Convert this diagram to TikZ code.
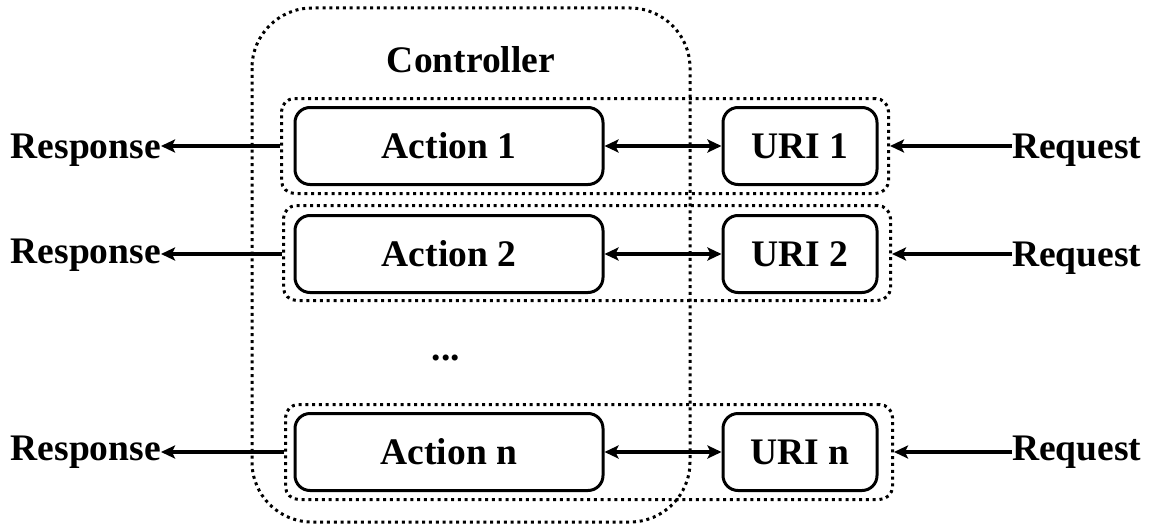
\documentclass[tikz,border=0pt]{standalone}
\usepackage{fontspec}
\setmainfont{Liberation Serif}
\usetikzlibrary{arrows.meta}
\begin{document}
\begin{tikzpicture}[x=1pt,y=-1pt,
  lbl/.style={font=\bfseries\fontsize{37.5}{42}\selectfont, inner sep=0pt},
  actbox/.style={draw, line width=3pt, rounded corners=15pt, minimum width=308pt, minimum height=77pt, lbl},
  uribox/.style={draw, line width=3pt, rounded corners=15pt, minimum width=154pt, minimum height=77pt, lbl},
  grp/.style={draw, line width=3pt, dash pattern=on 3pt off 3.8pt, rounded corners=13pt, minimum width=607pt, minimum height=95pt},
  dots/.style={draw, line width=3pt, dash pattern=on 3pt off 3.8pt},
  arr/.style={line width=3.5pt, -{Stealth[length=14pt,width=13pt,inset=3pt]}},
  biarr/.style={line width=3.5pt, {Stealth[length=14pt,width=13pt,inset=3pt]}-{Stealth[length=14pt,width=13pt,inset=3pt]}}
]
\useasboundingbox (0,0) rectangle (1153,527);

% controller frame
\draw[dots, rounded corners=60pt] (252,8) rectangle (690,522);
\node[lbl] (ctrl) at (471,60) {Controller};

% groups (action + uri)
\node[grp] (g1) at (585,146) {};
\node[grp] (g2) at (587,253) {};
\node[grp] (gn) at (589,452) {};

% actions
\node[actbox] (a1) at (449,146) {Action 1};
\node[actbox] (a2) at (449,254) {Action 2};
\node[actbox] (an) at (449,452) {Action n};

% uris
\node[uribox] (u1) at (800,146) {URI 1};
\node[uribox] (u2) at (800,254) {URI 2};
\node[uribox] (un) at (800,452) {URI n};

\node[lbl] (dots) at (446,358) {...};

% responses and requests
\node[lbl, anchor=east] (rs1) at (161,150) {Response};
\node[lbl, anchor=east] (rs2) at (161,255) {Response};
\node[lbl, anchor=east] (rsn) at (161,452) {Response};
\node[lbl, anchor=west] (rq1) at (1012,150) {Request};
\node[lbl, anchor=west] (rq2) at (1012,258) {Request};
\node[lbl, anchor=west] (rqn) at (1012,452) {Request};

% connectors
\draw[arr] (g1.west |- a1) -- (rs1.east |- a1);
\draw[arr] (g2.west |- a2) -- (rs2.east |- a2);
\draw[arr] (gn.west |- an) -- (rsn.east |- an);
\draw[arr] (rq1.west |- u1) -- (g1.east |- u1);
\draw[arr] (rq2.west |- u2) -- (g2.east |- u2);
\draw[arr] (rqn.west |- un) -- (gn.east |- un);
\draw[biarr] (a1) -- (u1);
\draw[biarr] (a2) -- (u2);
\draw[biarr] (an) -- (un);
\end{tikzpicture}
\end{document}
